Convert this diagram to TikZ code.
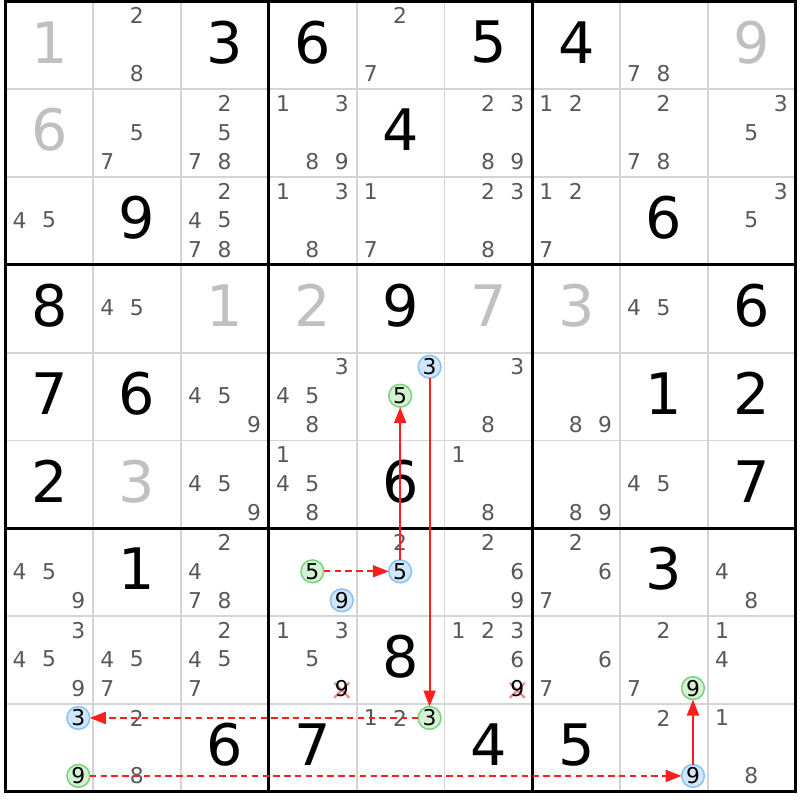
\documentclass[tikz,border=0pt]{standalone}
\usepackage{fontspec}
\setmainfont{DejaVu Sans}
\usetikzlibrary{arrows.meta,shapes.misc}
\definecolor{givengray}{RGB}{192,192,192}
\definecolor{candgray}{RGB}{88,88,88}
\definecolor{linegray}{RGB}{212,212,212}
\definecolor{bluefill}{RGB}{208,230,252}
\definecolor{blueedge}{RGB}{140,195,245}
\definecolor{greenfill}{RGB}{212,242,212}
\definecolor{greenedge}{RGB}{125,210,125}
\definecolor{linkred}{RGB}{255,30,30}
\definecolor{crossred}{RGB}{240,140,140}
\tikzset{
  big/.style={font=\fontsize{40.7}{41}\selectfont,inner sep=0pt},
  given/.style={big,text=givengray},
  solved/.style={big,text=black},
  cand/.style={font=\fontsize{15.5}{15.5}\selectfont,text=candgray,inner sep=0pt},
  onblue/.style={cand,text=black,circle,draw=blueedge,fill=bluefill,line width=1.1pt,minimum size=5.7mm,outer sep=0pt},
  ongreen/.style={cand,text=black,circle,draw=greenedge,fill=greenfill,line width=1.1pt,minimum size=5.7mm,outer sep=0pt},
  strong/.style={linkred,line width=1.4pt,-{Triangle[length=4mm,width=3mm]}},
  weak/.style={strong,dash pattern=on 1.6mm off 1.1mm},
}
\begin{document}
\begin{tikzpicture}[x=2.195cm,y=-2.195cm]
\useasboundingbox (-0.0626,-0.0171) rectangle (9.049,9.094);
% grid
\foreach \i in {1,2,4,5,7,8}{\draw[linegray,line width=1.2pt](\i,0)--(\i,9) (0,\i)--(9,\i);}
\foreach \i in {3,6}{\draw[line width=2.1pt](\i,0)--(\i,9) (0,\i)--(9,\i);}
\draw[line width=2.1pt](0,0) rectangle (9,9);
% digits
\foreach \r/\c/\d in {1/1/1,1/9/9,2/1/6,4/3/1,4/4/2,4/6/7,4/7/3,6/2/3}{\node[given](v\r\c) at (\c-0.5,\r-0.535){\d};}
\foreach \r/\c/\d in {1/3/3,1/4/6,1/6/5,1/7/4,2/5/4,3/2/9,3/8/6,4/1/8,4/5/9,4/9/6,5/1/7,5/2/6,5/8/1,5/9/2,6/1/2,6/5/6,6/9/7,7/2/1,7/8/3,8/5/8,9/3/6,9/4/7,9/6/4,9/7/5}{\node[solved](v\r\c) at (\c-0.5,\r-0.535){\d};}
% candidates
\foreach \r/\c/\ds in {1/2/{2,8},1/5/{2,7},1/8/{7,8},
  2/2/{5,7},2/3/{2,5,7,8},2/4/{1,3,8,9},2/6/{2,3,8,9},2/7/{1,2},2/8/{2,7,8},2/9/{3,5},
  3/1/{4,5},3/3/{2,4,5,7,8},3/4/{1,3,8},3/5/{1,7},3/6/{2,3,8},3/7/{1,2,7},3/9/{3,5},
  4/2/{4,5},4/8/{4,5},
  5/3/{4,5,9},5/4/{3,4,5,8},5/6/{3,8},5/7/{8,9},
  6/3/{4,5,9},6/4/{1,4,5,8},6/6/{1,8},6/7/{8,9},6/8/{4,5},
  7/1/{4,5,9},7/3/{2,4,7,8},7/5/{2},7/6/{2,6,9},7/7/{2,6,7},7/9/{4,8},
  8/1/{3,4,5,9},8/2/{4,5,7},8/3/{2,4,5,7},8/4/{1,3,5},8/6/{1,2,3,6},8/7/{6,7},8/8/{2,7},8/9/{1,4},
  9/2/{2,8},9/5/{1,2},9/8/{2},9/9/{1,8}}{
  \foreach \d in \ds{\node[cand](p\r\c\d) at ({\c-1+0.16+0.335*mod(\d-1,3)},{\r-1+0.16+0.33*floor((\d-1)/3)}){\d};}
}
% eliminated
\foreach \r/\c in {8/4,8/6}{
  \node[cross out,draw=crossred,line width=1.6pt,minimum size=3.2mm,inner sep=0pt](k\r\c) at (\c-0.17,\r-0.155){};
  \node[cand,text=black](p\r\c9) at (\c-0.17,\r-0.18){9};
}
% chain
\foreach \r/\c/\d/\s in {5/5/3/onblue,5/5/5/ongreen,7/4/5/ongreen,7/4/9/onblue,7/5/5/onblue,8/8/9/ongreen,9/1/3/onblue,9/1/9/ongreen,9/5/3/ongreen,9/8/9/onblue}{
  \node[\s](h\r\c\d) at ({\c-1+0.16+0.335*mod(\d-1,3)},{\r-1+0.16+0.33*floor((\d-1)/3)}){\d};
}
\draw[weak](h745)--(h755);
\draw[strong](h755)--(h555);
\draw[strong](h553)--(h953);
\draw[weak](h953)--(h913);
\draw[weak](h919)--(h989);
\draw[strong](h989)--(h889);
\end{tikzpicture}
\end{document}
